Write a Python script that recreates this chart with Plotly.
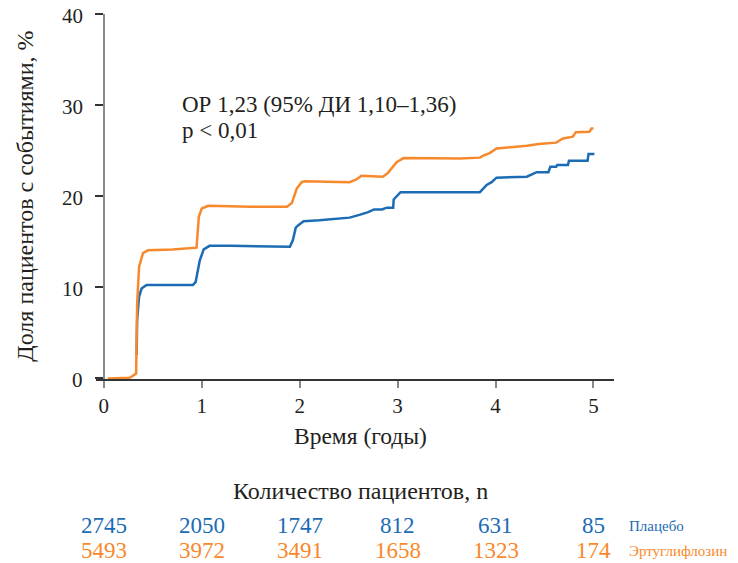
import plotly.graph_objects as go

# Time (years) and cumulative incidence (%)
placebo_t = [0.335, 0.34, 0.36, 0.385, 0.436, 0.6, 0.8, 0.91, 0.937, 0.98, 1.02, 1.08, 1.3, 1.66, 1.9,
             1.93, 1.96, 1.99, 2.04, 2.2, 2.51, 2.61, 2.70, 2.76, 2.84, 2.89, 2.955, 2.96, 2.98, 3.03,
             3.5, 3.84, 3.91, 3.96, 4.01, 4.32, 4.42, 4.54, 4.56, 4.62, 4.63, 4.74, 4.75, 4.94, 4.95, 5.01]
placebo_v = [2.5, 6.3, 8.9, 9.8, 10.2, 10.2, 10.2, 10.2, 10.5, 12.9, 14.1, 14.5, 14.5, 14.4, 14.4,
             15.1, 16.5, 16.8, 17.2, 17.3, 17.6, 17.9, 18.2, 18.5, 18.5, 18.7, 18.7, 19.6, 19.8, 20.4,
             20.4, 20.4, 21.2, 21.5, 22.0, 22.1, 22.6, 22.6, 23.2, 23.2, 23.4, 23.4, 23.85, 23.85, 24.6, 24.6]

ertu_t = [0.04, 0.27, 0.33, 0.34, 0.36, 0.40, 0.45, 0.7, 0.947, 0.957, 0.97, 1.0, 1.065, 1.5, 1.87,
          1.92, 1.97, 2.02, 2.05, 2.51, 2.58, 2.63, 2.85, 2.90, 2.99, 3.06, 3.64, 3.84, 3.87, 3.94,
          4.01, 4.32, 4.44, 4.62, 4.69, 4.79, 4.82, 4.96, 4.98, 5.0]
ertu_v = [-0.1, 0.0, 0.44, 8.1, 12.2, 13.7, 14.0, 14.1, 14.3, 15.5, 17.7, 18.6, 18.9, 18.8, 18.8,
          19.2, 20.8, 21.5, 21.6, 21.5, 21.8, 22.2, 22.1, 22.5, 23.7, 24.15, 24.1, 24.2, 24.4, 24.7,
          25.2, 25.5, 25.7, 25.85, 26.3, 26.5, 27.0, 27.05, 27.4, 27.4]

y_ticks = [0, 10, 20, 30, 40]
risk_times = [0, 1, 2, 3, 4, 5]
placebo_n = ["2745", "2050", "1747", "812", "631", "85"]
ertu_n = ["5493", "3972", "3491", "1658", "1323", "174"]

BLUE = "#1b6cb4"
ORANGE = "#f7892c"
TXT = "#231f20"
FONT = "Liberation Serif"

fig = go.Figure()
fig.add_trace(go.Scatter(x=placebo_t, y=placebo_v, mode="lines",
                         line=dict(color=BLUE, width=2.5), name="Плацебо"))
fig.add_trace(go.Scatter(x=ertu_t, y=ertu_v, mode="lines",
                         line=dict(color=ORANGE, width=2.5), name="Эртуглифлозин"))

x_lo, x_hi = -0.08, 5.21
fig.update_layout(
    width=738, height=563,
    margin=dict(l=96, r=124, t=14, b=184.4, autoexpand=False),
    paper_bgcolor="white", plot_bgcolor="white",
    showlegend=False,
    font=dict(family=FONT, color=TXT, size=21),
    xaxis=dict(range=[x_lo, x_hi], tickvals=risk_times, ticks="outside", ticklen=7,
               tickcolor="#888888", tickwidth=1.5, showline=True, linecolor="#333333",
               linewidth=1.5, showgrid=False, zeroline=False, automargin=False,
               tickfont=dict(family=FONT, size=21, color=TXT)),
    yaxis=dict(range=[-0.15, 40], tickvals=y_ticks, ticks="outside", ticklen=8,
               tickcolor="#333333", tickwidth=1.5, showline=True, linecolor="#8a8a8a",
               linewidth=2, showgrid=False, zeroline=False, anchor="free", automargin=False,
               position=(0 - x_lo) / (x_hi - x_lo), showticklabels=False),
)

ann = []
for v in y_ticks:
    ann.append(dict(text=str(v), xref="x", yref="y", x=0, y=v, xshift=-19, yshift=-2,
                    showarrow=False, font=dict(family=FONT, size=21, color=TXT),
                    xanchor="right", yanchor="middle"))
ann.append(dict(text="Доля пациентов с событиями, %", xref="paper", yref="paper",
                x=-0.136, y=0.501, textangle=-90, showarrow=False,
                font=dict(family=FONT, size=24, color=TXT), xanchor="center", yanchor="middle"))
ann.append(dict(text="Время (годы)", xref="paper", yref="paper", x=0.5097, y=-0.157,
                showarrow=False, font=dict(family=FONT, size=23.5, color=TXT),
                xanchor="center", yanchor="middle"))
ann.append(dict(text="ОР 1,23 (95% ДИ 1,10–1,36)", xref="x", yref="y", x=0.776, y=30.0,
                showarrow=False, font=dict(family=FONT, size=23, color=TXT),
                xanchor="left", yanchor="middle"))
ann.append(dict(text="p < 0,01", xref="x", yref="y", x=0.776, y=27.2,
                showarrow=False, font=dict(family=FONT, size=23, color=TXT),
                xanchor="left", yanchor="middle"))
ann.append(dict(text="Количество пациентов, n", xref="paper", yref="paper", x=0.5097, y=-0.3055,
                showarrow=False, font=dict(family=FONT, size=24, color=TXT),
                xanchor="center", yanchor="middle"))
for t, n in zip(risk_times, placebo_n):
    ann.append(dict(text=n, xref="x", yref="paper", x=t, y=-0.4015, showarrow=False,
                    font=dict(family=FONT, size=23, color=BLUE), xanchor="center", yanchor="middle"))
for t, n in zip(risk_times, ertu_n):
    ann.append(dict(text=n, xref="x", yref="paper", x=t, y=-0.4701, showarrow=False,
                    font=dict(family=FONT, size=23, color=ORANGE), xanchor="center", yanchor="middle"))
ann.append(dict(text="Плацебо", xref="paper", yref="paper", x=1.025, y=-0.4015, showarrow=False,
                font=dict(family=FONT, size=15, color=BLUE), xanchor="left", yanchor="middle"))
ann.append(dict(text="Эртуглифлозин", xref="paper", yref="paper", x=1.025, y=-0.4701, showarrow=False,
                font=dict(family=FONT, size=15, color=ORANGE), xanchor="left", yanchor="middle"))
fig.update_layout(annotations=ann)

fig.write_html("out.html", config={"displayModeBar": False},
               post_script="document.body.style.margin='0';")
